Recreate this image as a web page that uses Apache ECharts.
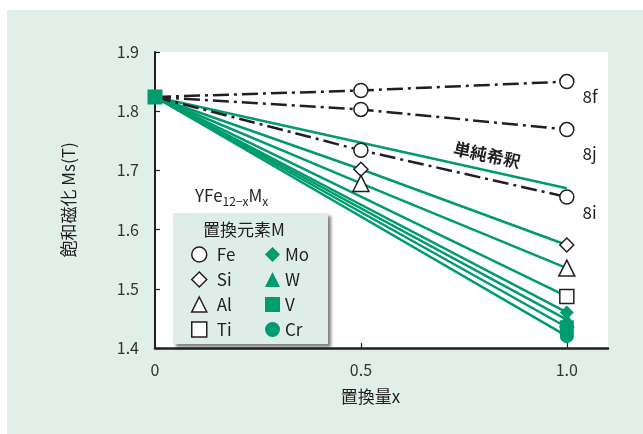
<!DOCTYPE html>
<html>
<head>
<meta charset="utf-8">
<script src="https://cdn.jsdelivr.net/npm/echarts@6/dist/echarts.min.js"></script>
<style>
html, body { margin: 0; padding: 0; background: #fff; }
#main { position: absolute; left: 7px; top: 10px; width: 636px; height: 424px; }
</style>
</head>
<body>
<div id="main"></div>
<script>
// 置換量x と 飽和磁化Ms(T)
var xPoints = [0, 0.5, 1.0];
var startMs = 1.824;

// Fe サイト別 (一点鎖線)
var feSites = ['8f', '8j', '8i'];
var feMs = [
    [1.824, 1.835, 1.850],
    [1.824, 1.803, 1.769],
    [1.824, 1.734, 1.655]
];
var feLabelDy = [15, 24, 16];

// 単純希釈
var dilutionMs = [1.824, 1.670];

// 置換元素M
var elems    = ['Si', 'Al', 'Ti', 'Mo', 'W', 'V', 'Cr'];
var msHalf   = [1.702, 1.678, null, null, null, null, null];
var msOne    = [1.574, 1.535, 1.487, 1.460, 1.448, 1.435, 1.420];
var symbols  = ['diamond', 'triangle', 'rect', 'diamond', 'triangle', 'rect', 'circle'];
var filled   = [false, false, false, true, true, true, true];

var GREEN = '#009b6e', INK = '#231f20', FONT = '"Noto Sans CJK JP", "Noto Sans", sans-serif';

function openStyle() { return { color: '#fff', borderColor: INK, borderWidth: 1.5 }; }
function fillStyle() { return { color: GREEN, borderColor: GREEN, borderWidth: 0 }; }

var series = [];

series.push({
    name: '単純希釈', type: 'line', symbol: 'none', z: 3,
    lineStyle: { color: GREEN, width: 2.5 },
    data: [[xPoints[0], dilutionMs[0]], [xPoints[2], dilutionMs[1]]]
});

elems.forEach(function (el, i) {
    var d = [{ value: [0, startMs], symbol: 'none' }];
    if (msHalf[i] != null) d.push([0.5, msHalf[i]]);
    d.push([1.0, msOne[i]]);
    if (el === 'V') d[0] = { value: [0, startMs], symbol: 'rect', symbolSize: 15 };
    series.push({
        name: el, type: 'line', symbol: symbols[i], symbolSize: symbols[i] === 'triangle' ? 16 : 14,
        z: el === 'V' ? 6 : 3, showAllSymbol: true,
        lineStyle: { color: GREEN, width: 2.5 },
        itemStyle: filled[i] ? fillStyle() : openStyle(),
        data: d
    });
});

feSites.forEach(function (site, i) {
    var d = xPoints.map(function (x, j) { return [x, feMs[i][j]]; });
    d[0] = { value: d[0], symbol: 'none' };
    d[2] = {
        value: d[2],
        label: { show: true, position: 'right', offset: [3, feLabelDy[i]], formatter: site,
                 fontSize: 17, color: INK, fontFamily: FONT }
    };
    series.push({
        name: 'Fe', type: 'line', symbol: 'circle', symbolSize: 14, z: 4,
        lineStyle: { color: INK, width: 2.5, type: [16, 5, 3, 5] },
        itemStyle: openStyle(),
        data: d
    });
});

function legendItem(name, icon, isFilled) {
    return { name: name, icon: icon, itemStyle: isFilled ? fillStyle() : openStyle() };
}

var legendCommon = {
    orient: 'vertical', itemGap: 8, itemWidth: 15, itemHeight: 15,
    selectedMode: false, z: 10,
    textStyle: { fontSize: 17, color: INK, fontFamily: FONT, lineHeight: 16 }
};

var myChart = echarts.init(document.getElementById('main'));
var option = {
    backgroundColor: '#e0efe8',
    animation: false,
    grid: { left: 148, right: 35, top: 42, bottom: 86, show: true, backgroundColor: '#fff', borderWidth: 0 },
    xAxis: {
        type: 'value', min: 0, max: 1.1, interval: 0.5,
        name: '置換量x', nameLocation: 'middle', nameGap: 40,
        nameTextStyle: { fontSize: 17, color: INK, fontFamily: FONT, padding: [0, 22, 0, 0] },
        axisLine: { lineStyle: { color: INK, width: 2.5 } },
        axisTick: { inside: true, length: 5, lineStyle: { color: INK, width: 1.2 }, customValues: [0.5, 1.0] },
        axisLabel: {
            fontSize: 16, color: '#333', fontFamily: FONT, margin: 14,
            customValues: [0, 0.5, 1.0],
            formatter: function (v) { return v === 0 ? '0' : v.toFixed(1); }
        },
        splitLine: { show: false }
    },
    yAxis: {
        type: 'value', min: 1.4, max: 1.9, interval: 0.1,
        name: '飽和磁化 Ms(T)', nameLocation: 'middle', nameGap: 78, nameRotate: 90,
        nameTextStyle: { fontSize: 17, color: INK, fontFamily: FONT },
        axisLine: { show: true, lineStyle: { color: INK, width: 2 } },
        axisTick: { show: true, inside: true, length: 5, lineStyle: { color: INK, width: 1.2 } },
        axisLabel: {
            fontSize: 16, color: '#333', fontFamily: FONT, margin: 16,
            formatter: function (v) { return v.toFixed(1); }
        },
        splitLine: { show: false }
    },
    legend: [
        Object.assign({}, legendCommon, {
            left: 179, top: 231,
            textStyle: Object.assign({}, legendCommon.textStyle, { padding: [0, 0, 0, 5] }),
            data: [legendItem('Fe', 'circle', false), legendItem('Si', 'diamond', false),
                   legendItem('Al', 'triangle', false), legendItem('Ti', 'rect', false)]
        }),
        Object.assign({}, legendCommon, {
            left: 253, top: 231,
            data: [legendItem('Mo', 'diamond', true), legendItem('W', 'triangle', true),
                   legendItem('V', 'rect', true), legendItem('Cr', 'circle', true)]
        })
    ],
    graphic: [
        {
            type: 'rect', left: 166, top: 203, z: 5,
            shape: { width: 155, height: 131 },
            style: { fill: '#deede7', shadowBlur: 3, shadowOffsetX: 3, shadowOffsetY: 3, shadowColor: 'rgba(0,0,0,0.5)' }
        },
        {
            type: 'text', left: 196, top: 211, z: 6,
            style: { text: '置換元素M', fontSize: 17, fill: INK, fontFamily: FONT }
        },
        {
            type: 'text', left: 188, top: 177, z: 6,
            style: {
                text: '{a|YFe}{s|12−x}{a|M}{s|x}', fill: INK, fontFamily: FONT,
                rich: {
                    a: { fontSize: 17, lineHeight: 20, fill: INK, fontFamily: FONT, verticalAlign: 'bottom' },
                    s: { fontSize: 12, lineHeight: 14, fill: INK, fontFamily: FONT, verticalAlign: 'bottom', padding: [0, 0, -3, 0] }
                }
            }
        },
        {
            type: 'text', x: 480, y: 145, rotation: -0.21, z: 6,
            style: { text: '単純希釈', fontSize: 17, fontWeight: 'bold', fill: INK, fontFamily: FONT, align: 'center', verticalAlign: 'middle' }
        }
    ],
    series: series
};
myChart.setOption(option);
</script>
</body>
</html>
